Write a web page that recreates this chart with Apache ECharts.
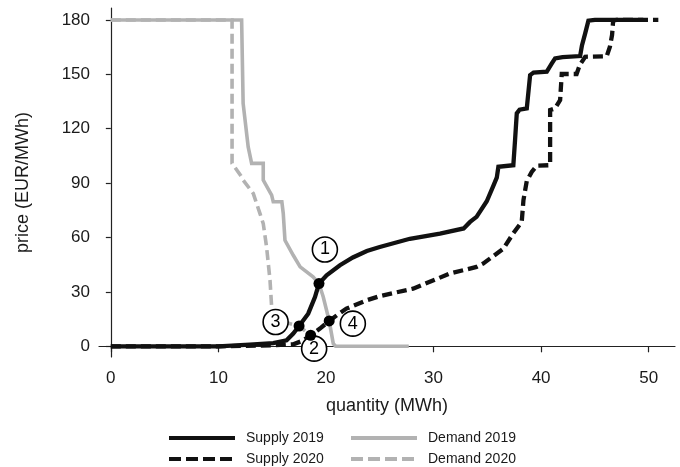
<!DOCTYPE html>
<html>
<head>
<meta charset="utf-8">
<script src="https://cdn.jsdelivr.net/npm/echarts@6/dist/echarts.min.js"></script>
<style>html,body{margin:0;padding:0;background:#fff}#c{width:680px;height:467px}</style>
</head>
<body>
<div id="c"></div>
<script>
// ---- data (quantity MWh, price EUR/MWh) ----
const supply2019 = [[0,0],[10,0],[12.9,0.9],[15.1,1.8],[16.34,3.3],[16.96,7],[17.5,11.2],[18.35,18],[18.98,27.2],[19.35,34.6],[20.06,39.2],[21.3,44.7],[22.5,49],[23.8,52.6],[25,54.8],[27.8,59.3],[30.6,62.2],[32.8,65],[33.4,68.6],[34,71.4],[34.95,80],[35.56,88.5],[35.88,93],[36.03,99],[37.42,99.9],[37.58,113.7],[37.74,128.5],[38.0,130.5],[38.67,131.2],[38.98,149.6],[39.3,151],[40.53,151.5],[41.0,156],[41.3,158.8],[42,159.5],[43.63,160.1],[43.8,166],[44.1,172.6],[44.4,179.6],[45,180],[49.5,180]];
const supply2020 = [[0,0],[10,0],[15,0.5],[16.96,1.1],[17.8,3],[18.58,6.1],[19.44,9.8],[20.3,14],[21.1,17.5],[21.9,20.8],[23.8,25.4],[25,27.7],[28.1,31.8],[30,36.4],[31.5,40.1],[34,43.8],[34.6,45.6],[35.5,49.5],[36.5,53.9],[37.4,62.2],[38.2,68.6],[38.36,80.6],[38.67,91.2],[39.13,96.2],[39.6,99.6],[40.84,99.9],[40.84,130.3],[41.3,131.2],[41.77,135.8],[41.92,150.2],[43.3,150.2],[43.6,155.2],[44.1,159.7],[46.1,160],[46.4,165.3],[46.6,171.7],[46.7,179.6],[47,180],[50.9,180]];
const demand2019 = [[0,180],[12.16,180],[12.3,134],[12.77,110],[13.09,100.9],[14.17,100.9],[14.17,91.7],[14.95,83.4],[15.1,79.7],[15.9,79.7],[16.03,73.3],[16.19,58.5],[16.96,50.2],[17.6,43.8],[18.8,38.3],[19.35,34.6],[19.75,27.2],[20.3,14],[20.68,1.5],[20.9,0],[27.7,0]];
const demand2020 = [[0,180],[11.27,180],[11.27,100.9],[11.5,99],[12.1,94],[12.3,91.7],[12.47,91.5],[13.24,84.3],[13.86,73.3],[14.17,67.7],[14.48,54.8],[14.8,36.4],[14.95,21.7],[15.26,18],[16.0,14],[16.65,12.5],[17.5,11.2],[18.58,6.1],[19.2,1],[19.6,0]];
const equilibria = [[19.35,34.6],[18.58,6.1],[17.5,11.2],[20.3,14]];
const markerLabels = ['1','2','3','4'];
const markerPos = [[19.9,53.4],[18.9,-1.3],[15.32,13.4],[22.5,12.5]];
const xTicks = [0,10,20,30,40,50];
const yTicks = [0,30,60,90,120,150,180];
const seriesNames = ['Supply 2019','Demand 2019','Supply 2020','Demand 2020'];

const FONT = '"Liberation Sans", Arial, sans-serif';
const BLACK = '#111111', GRAY = '#b2b2b2';

const chart = echarts.init(document.getElementById('c'), null, {renderer:'canvas'});
const mkLine = (name, data, color, width, dashed, z) => ({
  name, type:'line', data, symbol:'none', showSymbol:false, smooth:false, z,
  lineStyle:{color, width, type: dashed ? [10,5] : 'solid', cap:'butt', join:'miter'},
  itemStyle:{color}, animation:false, clip:false
});
const legendItem = (name, color, dashed) => ({
  name,
  lineStyle:{color, width:4, type: dashed ? [12,5] : 'solid', opacity:1},
  itemStyle:{color, opacity:0}
});
const legendBase = {top:431, orient:'vertical', padding:0, itemWidth:66, itemHeight:14, itemGap:7, selectedMode:false,
  textStyle:{fontSize:14, color:'#1a1a1a', fontFamily:FONT, padding:[0,0,0,6]}};
chart.setOption({
  animation:false,
  textStyle:{fontFamily:FONT},
  grid:{left:99, right:5, top:8, bottom:110, containLabel:false},
  xAxis:{
    type:'value', min:-1.1, max:52.45,
    name:'quantity (MWh)', nameLocation:'middle', nameGap:40,
    nameTextStyle:{fontSize:18, color:'#1a1a1a', fontFamily:FONT},
    axisLine:{show:true, lineStyle:{color:'#222', width:1.2}},
    axisTick:{show:true, length:6, lineStyle:{color:'#222', width:1.2}, customValues:xTicks},
    axisLabel:{fontSize:17, color:'#1a1a1a', margin:13, fontFamily:FONT, customValues:xTicks},
    splitLine:{show:false}
  },
  yAxis:{
    type:'value', min:-5.9, max:186.6,
    name:'price (EUR/MWh)', nameLocation:'middle', nameGap:67, nameRotate:90,
    nameTextStyle:{fontSize:18, color:'#1a1a1a', fontFamily:FONT},
    axisLine:{show:true, lineStyle:{color:'#222', width:1.2}},
    axisTick:{show:true, length:5, lineStyle:{color:'#222', width:1.2}, customValues:yTicks},
    axisLabel:{fontSize:17, color:'#1a1a1a', margin:9, fontFamily:FONT, customValues:yTicks},
    splitLine:{show:false}
  },
  legend:[
    Object.assign({}, legendBase, {left:167,
     data:[legendItem(seriesNames[0], BLACK, false), legendItem(seriesNames[2], BLACK, true)]}),
    Object.assign({}, legendBase, {left:349,
     data:[legendItem(seriesNames[1], GRAY, false), legendItem(seriesNames[3], GRAY, true)]})
  ],
  series:[
    mkLine(seriesNames[1], demand2019, GRAY, 3.6, false, 2),
    mkLine(seriesNames[3], demand2020, GRAY, 3.6, true, 2),
    mkLine(seriesNames[0], supply2019, BLACK, 4.3, false, 3),
    mkLine(seriesNames[2], supply2020, BLACK, 4.3, true, 3),
    {type:'scatter', data:markerPos.map((p,i)=>({value:p, name:markerLabels[i]})), symbol:'circle', symbolSize:25, z:4, clip:false,
     itemStyle:{color:'#ffffff', borderColor:'#000', borderWidth:1.6, opacity:1},
     label:{show:true, position:'inside', formatter:'{b}', fontSize:18, color:'#000', fontFamily:FONT},
     emphasis:{disabled:true}},
    {type:'scatter', data:equilibria, symbol:'circle', symbolSize:11, z:5, clip:false,
     itemStyle:{color:'#000', opacity:1}, emphasis:{disabled:true}}
  ]
});
</script>
</body>
</html>
